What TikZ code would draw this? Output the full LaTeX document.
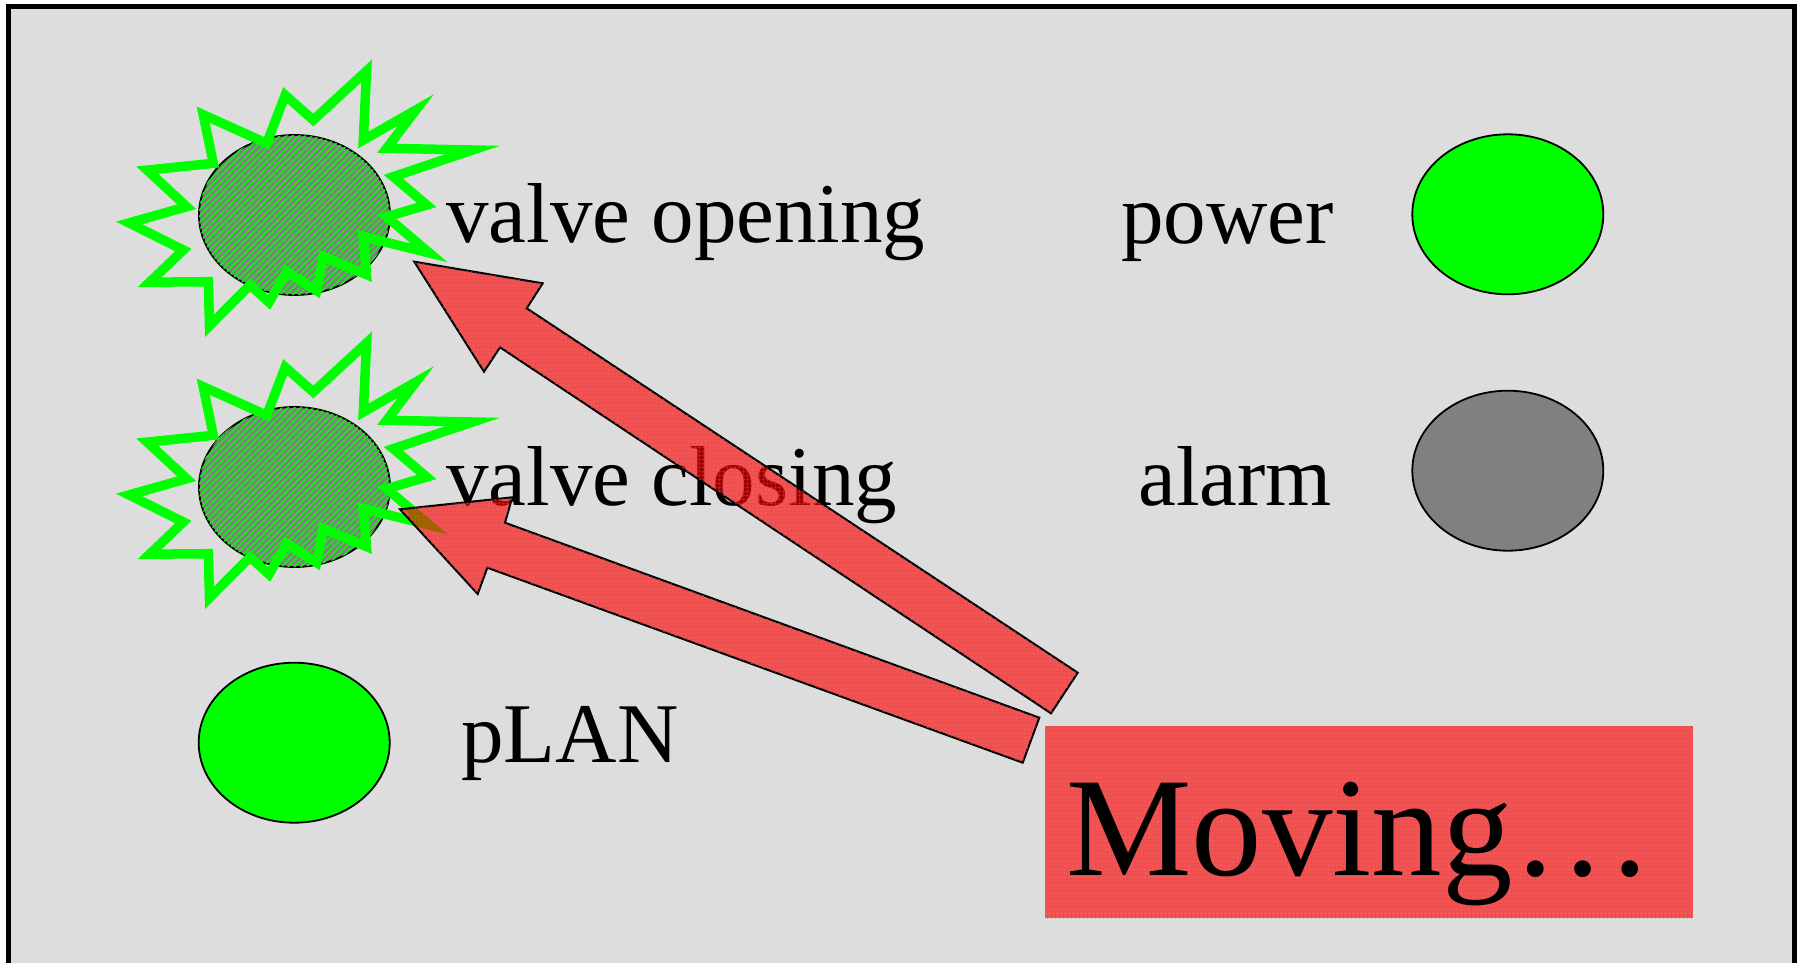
\documentclass[tikz,border=0pt]{standalone}
\usepackage{fontspec}
\setmainfont{Liberation Serif}
\usetikzlibrary{shapes.geometric,patterns.meta}
\definecolor{bg}{HTML}{DDDDDD}
\definecolor{lgreen}{HTML}{00FF00}
\definecolor{dgray}{HTML}{808080}
\definecolor{texred}{RGB}{250,60,60}
\tikzset{
  lamp/.style={ellipse, draw=black, line width=1.8pt, minimum width=191pt, minimum height=160pt, inner sep=0pt},
  hatched/.style={fill=dgray, postaction={pattern={Lines[angle=45,distance=4.5pt,line width=1.4pt]}, pattern color=lgreen}},
  txt/.style={font=\fontsize{85}{100}\selectfont, inner sep=0pt, text=black},
  burstline/.style={draw=lgreen, line width=9.5pt, line join=miter, miter limit=30},
  redtex/.style={fill=red, fill opacity=0.62, postaction={pattern={Hatch[angle=0,distance=4pt,line width=0.6pt]}, pattern color=texred}},
  blockarrow/.style={redtex, draw=black, draw opacity=1, line width=2pt, line join=miter},
  burst/.pic={
    \draw[burstline] (-85,110.8) -- (-86.2,66.7) -- (-144.9,67.2) -- (-111.2,35) -- (-165.4,7.9)
      -- (-107.8,-8.3) -- (-147.3,-44.9) -- (-81.2,-51.7) -- (-91.3,-100.3) -- (-27.8,-71.7)
      -- (-9.3,-119.8) -- (18.8,-95) -- (72.1,-144.1) -- (68.8,-75) -- (121.5,-105.1)
      -- (92.2,-66.7) -- (178.1,-65) -- (98.8,-38.3) -- (132.2,-10) -- (92.2,1.7)
      -- (134.7,37.9) -- (68.8,21.7) -- (72,59.6) -- (28.8,41.7) -- (22.1,75.5)
      -- (-7.8,56.7) -- (-25.5,87.3) -- (-44.5,70) -- cycle;
  }
}
\begin{document}
\begin{tikzpicture}[x=1pt,y=-1pt]
\useasboundingbox (0,0) rectangle (1799,963);
\clip (0,0) rectangle (1799,963);
\fill[white] (0,0) rectangle (1799,963);
\draw[line width=5pt, fill=bg] (8.5,6.8) rectangle (1794.5,1000);

% lamps
\node[lamp, hatched] (vo) at (294.5,215) {};
\node[lamp, hatched] (vc) at (294.5,487) {};
\node[lamp, fill=lgreen] (plan) at (294.2,742.7) {};
\node[lamp, fill=lgreen] (pw) at (1507.8,214.3) {};
\node[lamp, fill=dgray] (al) at (1507.8,470.7) {};

% bursts
\pic (b1) at (vo.center) {burst};
\pic (b2) at (vc.center) {burst};

% labels
\node[txt, anchor=base west] (tvo) at (446,242) {valve opening};
\node[txt, anchor=base west] (tvc) at (446,505) {valve closing};
\node[txt, anchor=base east] (tpw) at (1334,243) {power};
\node[txt, anchor=base east] (tal) at (1332,505) {alarm};
\node[txt, anchor=base west] (tpl) at (461,762) {pLAN};

% block arrows
\draw[blockarrow] (414.3,261.7) -- (542.7,283.3) -- (526.7,308.3) -- (1077.7,672.7)
  -- (1051,713.3) -- (500,347.3) -- (484,371.7) -- cycle;
\draw[blockarrow] (400,509.3) -- (512.3,497.3) -- (505,522.7) -- (1039.3,717.7)
  -- (1022.7,762.7) -- (487.3,567.7) -- (477.7,594) -- cycle;

% moving box
\node[redtex, minimum width=648pt, minimum height=192pt, inner sep=0pt, anchor=north west] (movebox) at (1045,726) {};
\node[font=\fontsize{141}{160}\selectfont, anchor=base west, inner sep=0pt] (movetext) at (1066,875) {Moving…};
\end{tikzpicture}
\end{document}
